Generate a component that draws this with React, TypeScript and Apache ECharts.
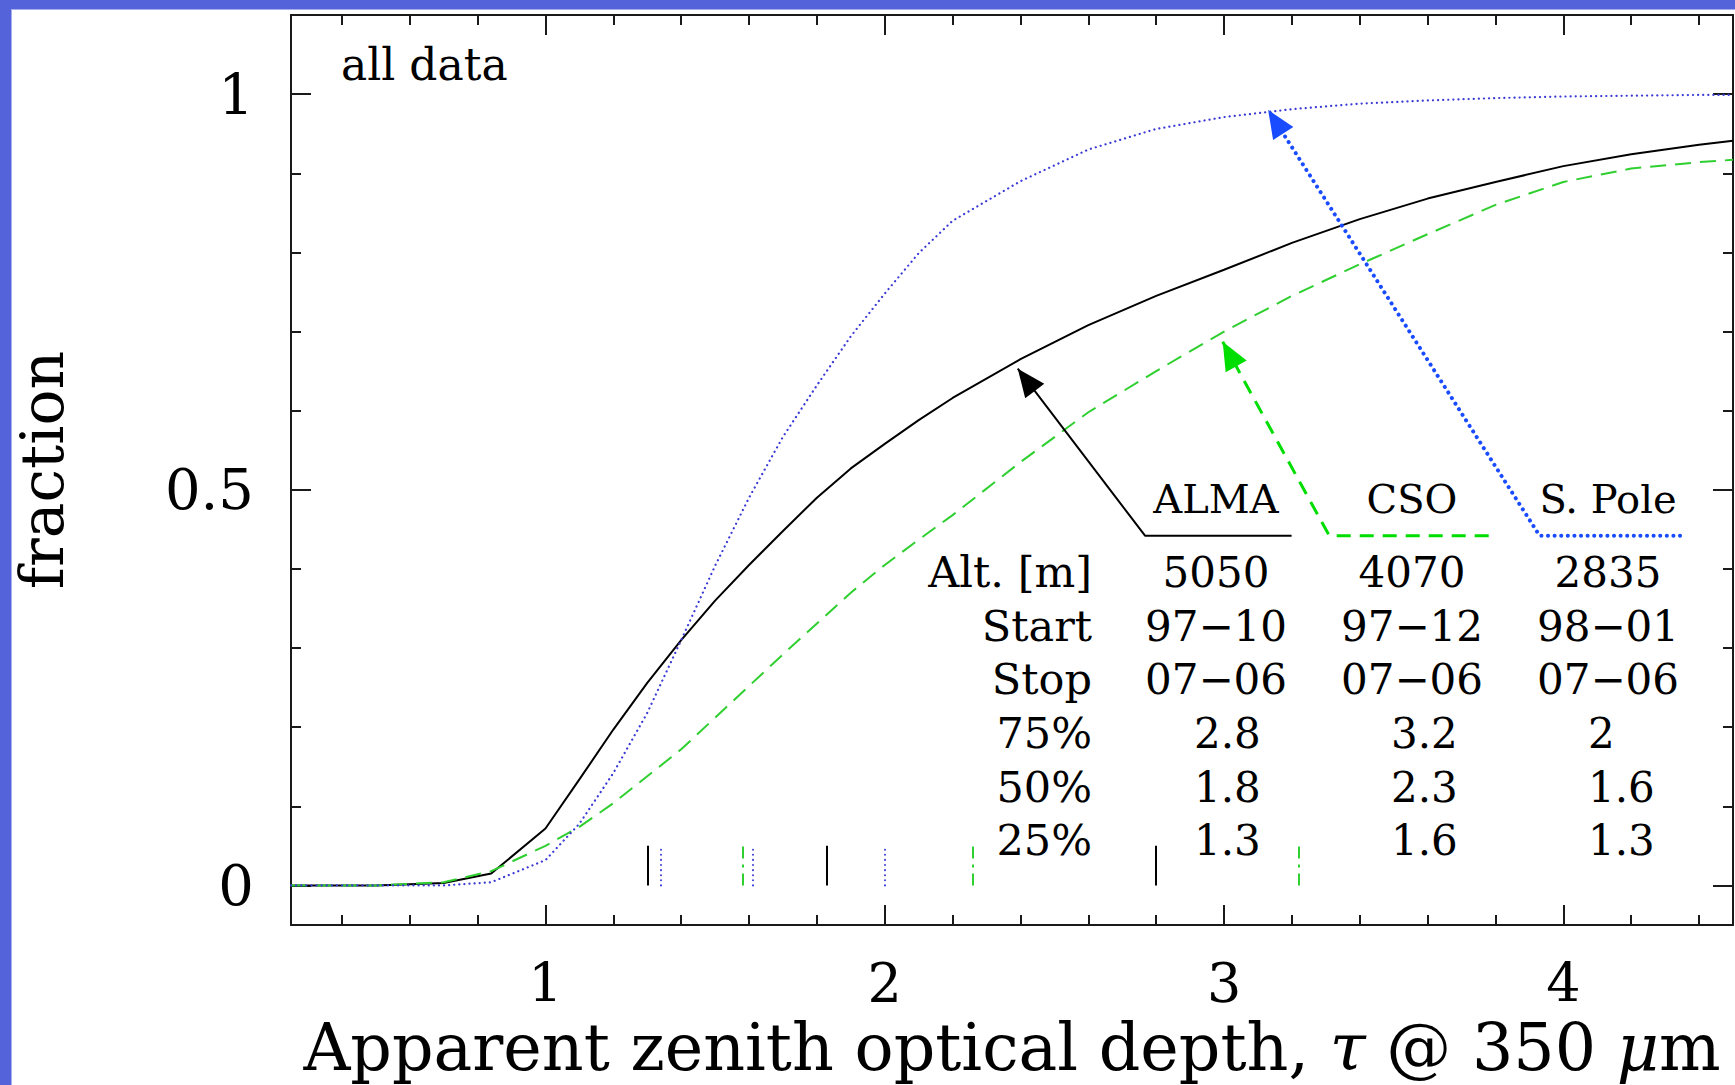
import React, { useEffect, useRef } from "react";
import * as echarts from "echarts";

// ---- data ----
const tauGrid = [0.25, 0.5, 0.7, 0.84, 1.0, 1.1, 1.2, 1.3, 1.4, 1.5, 1.6, 1.7, 1.8, 1.9, 2.0, 2.1, 2.2, 2.4, 2.6, 2.8, 3.0, 3.2, 3.4, 3.6, 3.8, 4.0, 4.2, 4.4, 4.5];
const almaFrac = [0, 0, 0.003, 0.015, 0.072, 0.134, 0.197, 0.256, 0.31, 0.36, 0.405, 0.448, 0.49, 0.527, 0.558, 0.588, 0.616, 0.665, 0.708, 0.745, 0.778, 0.812, 0.842, 0.868, 0.889, 0.909, 0.924, 0.936, 0.941];
const csoFrac = [0, 0, 0.004, 0.018, 0.05, 0.074, 0.104, 0.138, 0.172, 0.212, 0.252, 0.292, 0.331, 0.37, 0.405, 0.437, 0.468, 0.535, 0.598, 0.65, 0.7, 0.745, 0.785, 0.823, 0.86, 0.889, 0.906, 0.914, 0.917];
const spoleFrac = [0, 0, 0, 0.004, 0.032, 0.078, 0.142, 0.218, 0.31, 0.404, 0.49, 0.567, 0.632, 0.694, 0.748, 0.799, 0.84, 0.89, 0.93, 0.956, 0.971, 0.981, 0.988, 0.992, 0.995, 0.997, 0.998, 0.999, 0.999];

const almaQuartiles = [1.3, 1.83, 2.8];
const csoQuartiles = [1.58, 2.26, 3.22];
const spoleQuartiles = [1.34, 1.61, 2.0];

const xMajorTicks = [1, 2, 3, 4];
const xMinorTicks = [0.4, 0.6, 0.8, 1.2, 1.4, 1.6, 1.8, 2.2, 2.4, 2.6, 2.8, 3.2, 3.4, 3.6, 3.8, 4.2, 4.4];
const yMajorTicks = [0, 0.5, 1];
const yMinorTicks = [0.1, 0.2, 0.3, 0.4, 0.6, 0.7, 0.8, 0.9];

const siteNames = ["ALMA", "CSO", "S. Pole"];
const altitudes = ["5050", "4070", "2835"];
const startDates = ["97\u221210", "97\u221212", "98\u221201"];
const stopDates = ["07\u221206", "07\u221206", "07\u221206"];
const pct75 = ["2.8", "3.2", "2"];
const pct50 = ["1.8", "2.3", "1.6"];
const pct25 = ["1.3", "1.6", "1.3"];
const rowLabels = ["Alt. [m]", "Start", "Stop", "75%", "50%", "25%"];

// annotation geometry (data coordinates): underline right end, corner, arrow tip
const legendLineY = 0.442;
const almaPointer = { end: 3.199, corner: 2.767, tip: [2.392, 0.653] };
const csoPointer = { end: 3.78, corner: 3.31, tip: [2.996, 0.687] };
const spolePointer = { end: 4.344, corner: 3.93, tip: [3.13, 0.98] };

const F = "DejaVu Serif";
const BLACK = "#000000";
const GREEN = "#2fcf2f";
const GREEN_ARROW = "#00dd00";
const BLUE = "#3a3ad6";
const BLUE_ARROW = "#1a4cff";
const AXIS = "#1a1a1a";

const pairs = (ys: number[]) => tauGrid.map((t, i) => [t, ys[i]]);

const xAxisBase = {
  type: "value",
  min: 0.25,
  max: 4.5,
  splitLine: { show: false },
};
const yAxisBase = {
  type: "value",
  min: -0.05,
  max: 1.1,
  splitLine: { show: false },
};
const tickStyle = { color: AXIS, width: 2 };

export default function App() {
  const ref = useRef<HTMLDivElement>(null);
  useEffect(() => {
    const el = ref.current!;
    const chart = echarts.init(el, null, { renderer: "svg", width: 1735, height: 1085 });

    const quartileLines = (qs: number[]) =>
      qs.map((q) => [{ coord: [q, 0] }, { coord: [q, 0.05] }]);

    const option: any = {
      animation: false,
      backgroundColor: "#ffffff",
      grid: { left: 291, right: 2, top: 15, bottom: 160, containLabel: false, outerBoundsMode: "none" },
      xAxis: [
        {
          ...xAxisBase,
          position: "bottom",
          axisLine: { show: true, onZero: false, lineStyle: { color: AXIS, width: 2 } },
          axisTick: { show: true, inside: true, length: 20, customValues: xMajorTicks, lineStyle: tickStyle },
          axisLabel: { show: true, customValues: xMajorTicks, margin: 31, color: "#000", fontSize: 54, fontFamily: F },
          name: "Apparent zenith optical depth, {i|\u03c4} @ 350 {i|\u03bc}m",
          nameLocation: "middle",
          nameGap: 60,
          nameTextStyle: {
            color: "#000",
            fontSize: 65,
            fontFamily: F,
            rich: { i: { fontStyle: "italic", fontSize: 65, fontFamily: F, color: "#000" } },
          },
        },
        {
          ...xAxisBase,
          position: "bottom",
          axisLine: { show: false, onZero: false },
          axisTick: { show: true, inside: true, length: 10, customValues: xMinorTicks, lineStyle: tickStyle },
          axisLabel: { show: false },
        },
        {
          ...xAxisBase,
          position: "top",
          axisLine: { show: true, onZero: false, lineStyle: { color: AXIS, width: 2 } },
          axisTick: { show: true, inside: true, length: 20, customValues: xMajorTicks, lineStyle: tickStyle },
          axisLabel: { show: false },
        },
        {
          ...xAxisBase,
          position: "top",
          axisLine: { show: false, onZero: false },
          axisTick: { show: true, inside: true, length: 10, customValues: xMinorTicks, lineStyle: tickStyle },
          axisLabel: { show: false },
        },
      ],
      yAxis: [
        {
          ...yAxisBase,
          position: "left",
          axisLine: { show: true, onZero: false, lineStyle: { color: AXIS, width: 2 } },
          axisTick: { show: true, inside: true, length: 20, customValues: yMajorTicks, lineStyle: tickStyle },
          axisLabel: { show: true, customValues: yMajorTicks, margin: 37, color: "#000", fontSize: 56, fontFamily: F },
          name: "fraction",
          nameLocation: "middle",
          nameGap: 219,
          nameTextStyle: { color: "#000", fontSize: 60, fontFamily: F },
        },
        {
          ...yAxisBase,
          position: "left",
          axisLine: { show: false, onZero: false },
          axisTick: { show: true, inside: true, length: 10, customValues: yMinorTicks, lineStyle: tickStyle },
          axisLabel: { show: false },
        },
        {
          ...yAxisBase,
          position: "right",
          axisLine: { show: true, onZero: false, lineStyle: { color: AXIS, width: 2 } },
          axisTick: { show: true, inside: true, length: 20, customValues: yMajorTicks, lineStyle: tickStyle },
          axisLabel: { show: false },
        },
        {
          ...yAxisBase,
          position: "right",
          axisLine: { show: false, onZero: false },
          axisTick: { show: true, inside: true, length: 10, customValues: yMinorTicks, lineStyle: tickStyle },
          axisLabel: { show: false },
        },
      ],
      series: [
        {
          type: "line",
          name: "ALMA",
          data: pairs(almaFrac),
          symbol: "none",
          silent: true,
          z: 3,
          lineStyle: { color: BLACK, width: 2, type: "solid" },
          markLine: {
            silent: true,
            symbol: ["none", "none"],
            label: { show: false },
            lineStyle: { color: BLACK, width: 2, type: "solid" },
            data: quartileLines(almaQuartiles),
          },
        },
        {
          type: "line",
          name: "CSO",
          data: pairs(csoFrac),
          symbol: "none",
          silent: true,
          z: 3,
          lineStyle: { color: GREEN, width: 2, type: [16, 9] },
          markLine: {
            silent: true,
            symbol: ["none", "none"],
            label: { show: false },
            lineStyle: { color: GREEN, width: 2, type: [12, 6, 3, 6] },
            data: quartileLines(csoQuartiles),
          },
        },
        {
          type: "line",
          name: "S. Pole",
          data: pairs(spoleFrac),
          symbol: "none",
          silent: true,
          z: 3,
          lineStyle: { color: BLUE, width: 2.2, type: [0.1, 5], cap: "round" },
          markLine: {
            silent: true,
            symbol: ["none", "none"],
            label: { show: false },
            lineStyle: { color: BLUE, width: 2, type: [0.1, 5], cap: "round" },
            data: quartileLines(spoleQuartiles),
          },
        },
        {
          type: "line",
          data: [[almaPointer.end, legendLineY], [almaPointer.corner, legendLineY], almaPointer.tip],
          symbol: "none",
          silent: true,
          z: 4,
          lineStyle: { color: BLACK, width: 2, type: "solid" },
        },
        {
          type: "line",
          data: [[csoPointer.end, legendLineY], [csoPointer.corner, legendLineY], csoPointer.tip],
          symbol: "none",
          silent: true,
          z: 4,
          lineStyle: { color: GREEN_ARROW, width: 3, type: [14, 9] },
        },
        {
          type: "line",
          data: [[spolePointer.end, legendLineY], [spolePointer.corner, legendLineY], spolePointer.tip],
          symbol: "none",
          silent: true,
          z: 4,
          lineStyle: { color: BLUE_ARROW, width: 4, type: [0.1, 6.5], cap: "round" },
        },
      ],
    };
    chart.setOption(option);

    const toPx = (p: number[]) => chart.convertToPixel({ seriesIndex: 0 }, p) as number[];
    const head = (corner: number[], tip: number[], color: string) => {
      const c = toPx(corner);
      const t = toPx(tip);
      const dx = t[0] - c[0];
      const dy = t[1] - c[1];
      const len = Math.sqrt(dx * dx + dy * dy);
      const ux = dx / len;
      const uy = dy / len;
      const L = 28;
      const W = 12;
      const bx = t[0] - ux * L;
      const by = t[1] - uy * L;
      return {
        type: "polygon",
        z: 10,
        shape: {
          points: [
            [t[0], t[1]],
            [bx - uy * W, by + ux * W],
            [bx + uy * W, by - ux * W],
          ],
        },
        style: { fill: color, stroke: "none" },
      };
    };

    const txt = (text: string, x: number, y: number, align: string, size = 42) => ({
      type: "text",
      x,
      y,
      z: 10,
      style: { text, fill: "#000", fontSize: size, fontFamily: F, align, verticalAlign: "middle" },
    });

    const colCenters = [1216, 1412, 1608];
    const qLeft = [1194, 1391, 1588];
    const rowY = [572, 626, 679, 733, 787, 840];
    const headerY = 499;

    const graphics: any[] = [
      { type: "rect", z: 20, shape: { x: 0, y: 0, width: 11, height: 1085 }, style: { fill: "#5463da" } },
      { type: "rect", z: 20, shape: { x: 0, y: 0, width: 1735, height: 9 }, style: { fill: "#5463da" } },
      { type: "rect", z: 20, shape: { x: 11, y: 9, width: 1, height: 1076 }, style: { fill: "#a7aeec" } },
      { type: "rect", z: 20, shape: { x: 11, y: 9, width: 1724, height: 1 }, style: { fill: "#a7aeec" } },
      head([almaPointer.corner, legendLineY], almaPointer.tip, BLACK),
      head([csoPointer.corner, legendLineY], csoPointer.tip, GREEN_ARROW),
      head([spolePointer.corner, legendLineY], spolePointer.tip, BLUE_ARROW),
      txt("all data", 341, 64, "left", 44),
    ];
    siteNames.forEach((s, i) => graphics.push(txt(s, colCenters[i], headerY, "center", 40)));
    rowLabels.forEach((r, i) => graphics.push(txt(r, 1092, rowY[i], "right", 43)));
    [altitudes, startDates, stopDates].forEach((row, ri) =>
      row.forEach((v, ci) => graphics.push(txt(v, colCenters[ci], rowY[ri], "center")))
    );
    [pct75, pct50, pct25].forEach((row, ri) =>
      row.forEach((v, ci) => graphics.push(txt(v, qLeft[ci], rowY[ri + 3], "left")))
    );
    chart.setOption({ graphic: graphics });

    return () => chart.dispose();
  }, []);

  return (
    <div
      ref={ref}
      style={{ position: "fixed", left: 0, top: 0, width: 1735, height: 1085, background: "#fff" }}
    />
  );
}
